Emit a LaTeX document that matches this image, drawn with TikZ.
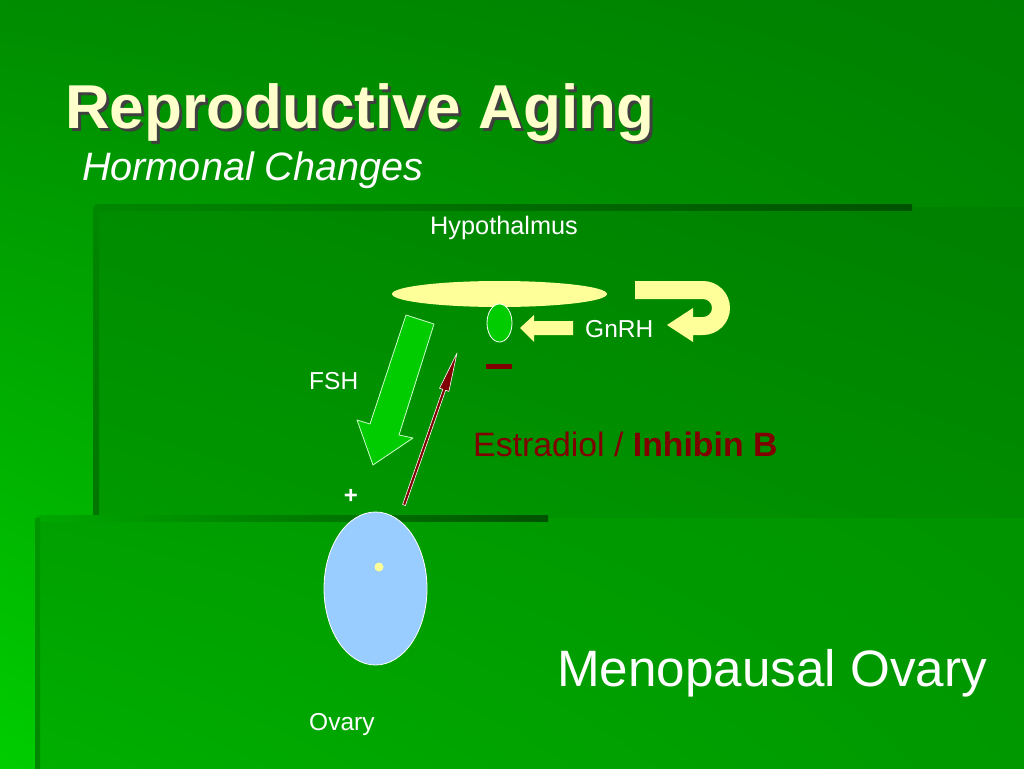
\documentclass[tikz,border=0pt]{standalone}
\usepackage{fontspec}
\setmainfont{Liberation Sans}
\usetikzlibrary{shapes.geometric,shadings,positioning}
\definecolor{paleyellow}{RGB}{255,255,153}
\definecolor{titleyellow}{RGB}{255,255,204}
\definecolor{brightgreen}{RGB}{0,204,0}
\definecolor{edgegreen}{RGB}{0,82,0}
\definecolor{darkred}{RGB}{128,0,0}
\definecolor{ovaryblue}{RGB}{153,204,255}
% background greens
\definecolor{bgA}{RGB}{0,140,0}
\definecolor{bgB}{RGB}{0,128,0}
\definecolor{bgC}{RGB}{0,205,0}
\definecolor{bgD}{RGB}{0,150,0}
\definecolor{bgE}{RGB}{0,165,0}
\definecolor{bgF}{RGB}{0,160,0}
\definecolor{bgG}{RGB}{0,148,0}
\definecolor{bgH}{RGB}{0,175,0}
\definecolor{bgI}{RGB}{0,152,0}
\definecolor{fadeA}{RGB}{0,135,0}
\definecolor{fadeB}{RGB}{0,168,0}
\definecolor{fadeC}{RGB}{0,150,0}

\begin{document}
\begin{tikzpicture}[x=1pt, y=-1pt, line join=round,
  lbl/.style={anchor=base west, inner sep=0pt, text=white, font=\fontsize{24.5}{28}\selectfont},
  organ/.style={ellipse, inner sep=0pt, draw=white, line width=0.8pt}]
  % ========================================================
  % 0. SLIDE BACKGROUND AND TEMPLATE PANELS
  % ========================================================
  \useasboundingbox (0,0) rectangle (1024,768);
  \shade[upper left=bgA, upper right=bgB, lower left=bgC, lower right=bgD]
    (0,0) rectangle (1024,768);
  \shade[upper left=bgA, upper right=bgB, lower left=bgE, lower right=bgD]
    (96,207) rectangle (1024,768);
  \shade[upper left=bgF, upper right=bgG, lower left=bgH, lower right=bgI]
    (37,518) rectangle (1024,768);
  % fading panel edges
  \shade[left color=fadeA, right color=edgegreen] (95,204) rectangle (912,210);
  \shade[top color=fadeA, bottom color=edgegreen!80!green] (93,207) rectangle (99,520);
  \shade[left color=fadeB, right color=edgegreen] (37,515) rectangle (548,521);
  \shade[top color=fadeC, bottom color=fadeC!90!black] (35,518) rectangle (40,768);

  % ========================================================
  % 1. TITLE
  % ========================================================
  \node[lbl, text=black!75, font=\fontsize{62}{70}\selectfont\bfseries] (titleshadow) at (68,131) {Reproductive Aging};
  \node[lbl, text=titleyellow, font=\fontsize{62}{70}\selectfont\bfseries] (title) at (65,128) {Reproductive Aging};
  \node[lbl, font=\fontsize{39.6}{45}\selectfont\itshape] (subtitle) at (82,180) {Hormonal Changes};

  % ========================================================
  % 2. ORGANS
  % ========================================================
  \node[ellipse, inner sep=0pt, fill=paleyellow, minimum width=215pt, minimum height=26pt] (hypo) at (499.5,294) {};
  \node[organ, fill=brightgreen, minimum width=25pt, minimum height=38pt] (pit) at (499.5,323) {};
  \node[organ, fill=ovaryblue, minimum width=103pt, minimum height=153pt] (ovary) at (375.5,588.5) {};
  \fill[paleyellow] (379,567) circle (4.5);

  % ========================================================
  % 3. ARROWS
  % ========================================================
  % GnRH arrow into the pituitary
  \fill[paleyellow] (573,321) -- (534,321) -- (534,315) -- (520,328) -- (534,342) -- (534,335) -- (573,335) -- cycle;
  % U-turn arrow
  \fill[paleyellow] (635,281) -- (703,281) arc[start angle=-90, end angle=90, radius=27]
    -- (693,335) -- (693,342) -- (667,325) -- (693,308) -- (693,317) -- (703,317)
    arc[start angle=90, end angle=-90, radius=9] -- (635,299) -- cycle;
  % FSH block arrow
  \filldraw[fill=brightgreen, draw=white!80!green, line width=0.8pt]
    (406,315) -- (434,324) -- (399,435) -- (413,438) -- (373,465) -- (357,420) -- (370,424) -- cycle;
  % feedback arrow from the ovary
  \filldraw[fill=darkred, draw=white, line width=0.6pt]
    (402.6,504.5) -- (442.8,389.3) -- (439.5,388.2) -- (457,353) -- (448.9,391.4) -- (445.6,390.3) -- (405.4,505.5) -- cycle;
  % inhibition sign
  \fill[darkred] (486,364) rectangle (512,369);

  % ========================================================
  % 4. LABELS
  % ========================================================
  \node[lbl, font=\fontsize{25.3}{30}\selectfont] (hypolbl) at (430,234) {Hypothalmus};
  \node[lbl] (gnrh) at (585,337) {GnRH};
  \node[lbl] (fsh) at (309,389) {FSH};
  \node[lbl] (ovarylbl) at (309,730) {Ovary};
  \node[inner sep=0pt, text=white, font=\fontsize{24}{28}\selectfont\bfseries] (plus) at (351,496.5) {+};
  \node[lbl, text=darkred, font=\fontsize{33.8}{38}\selectfont] (steroid) at (473,456) {Estradiol / \textbf{Inhibin B}};
  \node[lbl, font=\fontsize{51.2}{58}\selectfont] (meno) at (557,686) {Menopausal Ovary};

\end{tikzpicture}
\end{document}
